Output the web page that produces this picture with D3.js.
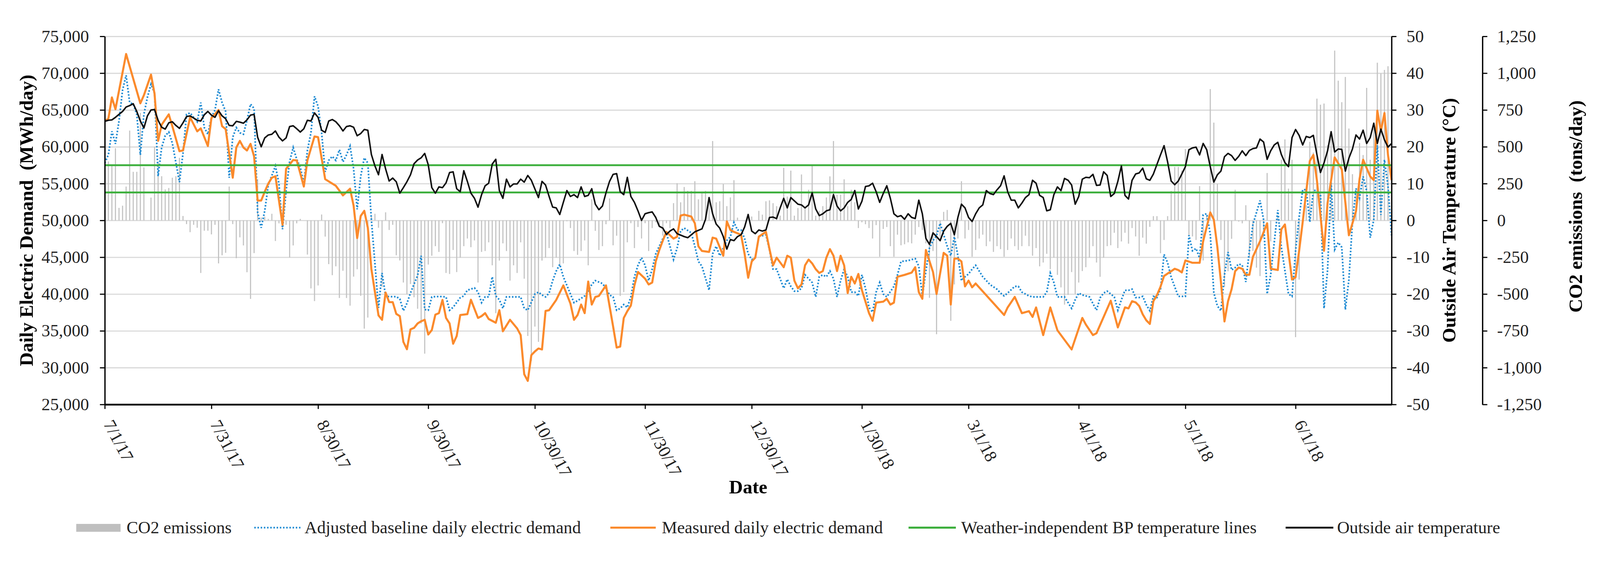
<!DOCTYPE html>
<html>
<head>
<meta charset="utf-8">
<script src="https://cdn.jsdelivr.net/npm/d3@7"></script>
<style>
  html, body { margin: 0; padding: 0; background: #fff; overflow: hidden; }
  #chart { display: block; width: 100vw; height: 100vh; }
  svg text { font-family: "Liberation Serif", "Times New Roman", serif; }
</style>
</head>
<body>
<svg id="chart" viewBox="0 0 4260 1436" preserveAspectRatio="xMidYMid meet"></svg>
<script>
// ---- data ----
const tickLabels = ['7/1/17', '7/31/17', '8/30/17', '9/30/17', '10/30/17', '11/30/17',
  '12/30/17', '1/30/18', '3/1/18', '4/1/18', '5/1/18', '6/1/18'];
const firstDay = '7/1/17';
const lastDay = 362; // days after 7/1/17 (6/28/18)

const demandTicks = [25000, 30000, 35000, 40000, 45000, 50000, 55000, 60000, 65000, 70000, 75000];
const tempTicks = [-50, -40, -30, -20, -10, 0, 10, 20, 30, 40, 50];
const co2Ticks = [-1250, -1000, -750, -500, -250, 0, 250, 500, 750, 1000, 1250];

const legendLabels = ['CO2 emissions', 'Adjusted baseline daily electric demand',
  'Measured daily electric demand', 'Weather-independent BP temperature lines', 'Outside air temperature'];

// weather-independent balance point temperatures (°C)
const bpTemps = [15.0, 7.6];

// CO2 emissions, tons/day, one value per day from 7/1/17
const co2Tons = [
  610, 400, 370, 490, 85, 100, 230, 610, 330, 330,
  730, 360, 0, 155, 500, 400, 300, 210, 220, 290,
  300, 425, 30, -25, -80, -30, -50, -357, -70, -70,
  -95, -30, -292, -237, -220, 230, -25, -257, -115, -170,
  -352, -533, -222, 280, 20, 25, 10, 45, -140, -20,
  -55, -30, -252, -170, -20, 10, 0, -232, -462, -548,
  -442, 40, -110, -297, -372, -312, -527, -342, -527, -579,
  -382, -332, -512, -735, -660, 25, 45, -50, -452, 55,
  -65, -30, -237, -272, -422, -502, -432, -522, -600, -700,
  -905, -300, -240, -175, -214, -19, -357, -364, -201, -351,
  -253, -175, -123, -182, -136, -422, -214, -208, -149, -305,
  -630, -273, -156, -208, -409, -305, -357, -149, -396, -785,
  -955, -721, -825, -273, -253, -188, -318, -253, -305, -292,
  -6, -52, -208, -234, -208, -136, -305, 143, -71, -201,
  -175, -26, 149, -169, -104, -513, -487, -149, -19, -188,
  -45, -123, -19, -208, -52, -13, -32, -104, -19, -52,
  117, 253, 123, 227, 201, 201, 266, 143, 195, 201,
  156, 539, 123, 130, 247, 97, 156, 273, 19, 0,
  -6, 19, 26, 0, 65, 39, 130, 136, 117, 97,
  32, 357, 162, 338, 32, 84, 312, 84, 208, 377,
  32, 65, 97, 156, 299, 539, 175, 175, 279, 97,
  208, 123, -52, -13, -26, -52, -123, -32, -247, -58,
  -45, -175, -247, -97, -169, -162, -149, -156, -97, -45,
  -65, -156, -526, -208, -773, -110, 58, 71, -682, -435,
  -123, 266, -123, -65, -247, -201, -123, -97, -175, -143,
  -214, -175, -195, -247, -201, -123, -175, -201, -175, -104,
  -175, -240, -188, -312, -286, -227, -331, -253, -370, -455,
  -572, -506, -351, -500, -422, -344, -318, -253, -175, -286,
  -383, -253, -175, -169, -84, -188, -143, -84, -158, -52,
  -109, -240, -117, -158, -44, 29, 29, -223, -133, 29,
  200, 363, 363, 339, 485, -101, -109, -133, 233, -272,
  29, 892, 664, 249, -133, -451, -345, -125, 208, -8,
  -20, 103, -256, -207, -321, -378, -117, 322, -142, -3,
  21, 412, 550, 216, 412, -793, -402, 5, 103, 534,
  461, 827, 786, 794, 510, 607, 1153, 949, 803, 974,
  624, 314, 185, 526, 444, 900, 412, 624, 1071, 998,
  1022, 1047, 762
];

// [day after 7/1/17, MWh/day]
const baselineMWh = [
  [0,57800],[1,58900],[2,62100],[3,60400],[4,63500],[5,67700],[6,69700],[7,66000],[8,65800],[9,64400],
  [10,58900],[11,64400],[12,66750],[13,68500],[14,67300],[15,56000],[16,59900],[17,61500],[18,62000],[19,60500],
  [21,55200],[22,59100],[23,64400],[24,64600],[26,63400],[27,66000],[28,62600],[29,61700],[30,64000],[31,65000],
  [32,67800],[33,66000],[34,64800],[35,55800],[36,61300],[37,62600],[38,61900],[39,61700],[40,63600],[41,65800],
  [42,65200],[43,51100],[44,49000],[45,51300],[46,54800],[48,57400],[49,55000],[50,48800],[51,54000],[52,58000],
  [53,59900],[54,58300],[55,57200],[56,55000],[57,59500],[58,61900],[59,66850],[60,65500],[61,61900],[62,56600],
  [63,58150],[64,58700],[65,58150],[66,59600],[67,57950],[68,58900],[69,60100],[70,57000],[71,51500],[72,56000],
  [73,58500],[74,57800],[75,50100],[77,38130],[78,42860],[79,39740],[80,39640],[82,39640],[83,39340],[84,37730],
  [85,38730],[86,40140],[87,41350],[88,42500],[89,45200],[90,37900],[91,37800],[92,39600],[93,39650],[95,39650],
  [96,39600],[97,37800],[98,38200],[100,39500],[101,39740],[102,40520],[104,40830],[105,40260],[106,38830],[107,39610],
  [108,39610],[109,42340],[110,39740],[111,39220],[112,38050],[113,39610],[116,39610],[117,39610],[118,38050],[119,37800],
  [121,40000],[122,40260],[123,39870],[124,39610],[125,40130],[126,41820],[127,43120],[128,44030],[129,42340],[131,40000],
  [132,38830],[133,39090],[135,39740],[136,40390],[137,41300],[138,41820],[140,41430],[141,40780],[142,39870],[143,39610],
  [144,37800],[145,38050],[146,38570],[147,38180],[148,39610],[149,42340],[150,43900],[151,44940],[152,43900],[153,41820],
  [154,43380],[155,45460],[156,46490],[157,47530],[158,48310],[159,46490],[160,44680],[161,46230],[162,48570],[163,48960],
  [165,48310],[166,46490],[167,44420],[168,43770],[170,40520],[171,45460],[172,46490],[173,45200],[174,46230],[175,47270],
  [176,47790],[177,49740],[178,48700],[179,48700],[180,47530],[181,45460],[182,44680],[183,44940],[184,47790],[186,48050],
  [187,45975],[188,43380],[189,43380],[191,40780],[192,42000],[193,41040],[194,40390],[195,40390],[196,40780],[197,42600],
  [199,41560],[200,39610],[201,42340],[202,42600],[203,42340],[204,43120],[205,42080],[206,39610],[207,41820],[208,43380],
  [209,42340],[210,40260],[211,40260],[212,39740],[213,42600],[214,40780],[215,38180],[216,37535],[217,40260],[218,41560],
  [219,40000],[220,39610],[222,41040],[223,42600],[224,44420],[226,44550],[228,44810],[229,43770],[230,39740],[231,43120],
  [232,46230],[233,47270],[234,47920],[235,49610],[237,46490],[238,45200],[239,47790],[240,45200],[241,41820],[242,42340],
  [243,42730],[244,43380],[245,43900],[247,42340],[248,41820],[249,41300],[251,40650],[252,40130],[253,39740],[254,40130],
  [256,41040],[257,41040],[258,40260],[260,39740],[261,39610],[262,39610],[264,39610],[265,40260],[266,42860],[267,41560],
  [268,39610],[269,39610],[270,39610],[272,38050],[273,39220],[274,40130],[275,39870],[277,39610],[278,38700],[279,37800],
  [280,39480],[281,40130],[282,40390],[284,39610],[285,37800],[286,39220],[287,40500],[288,40500],[289,40660],[290,39520],
  [291,39520],[292,39680],[293,38540],[294,37730],[295,39680],[296,39520],[297,40660],[298,45380],[299,44240],[300,42290],
  [302,39680],[303,39680],[304,39680],[305,47980],[306,45870],[307,46190],[308,44890],[309,50750],[310,50910],[311,48150],
  [312,40170],[313,38380],[314,37730],[315,42610],[316,45700],[317,43260],[318,43590],[319,44080],[320,43910],[321,41640],
  [322,45870],[323,49450],[325,52700],[326,50100],[327,40010],[328,42610],[330,51400],[331,46350],[333,40010],[334,39680],
  [335,45870],[336,50420],[337,54170],[338,54170],[339,49770],[340,54000],[341,54170],[342,53680],[343,38050],[344,43260],
  [345,55140],[346,46030],[347,47000],[348,46350],[349,37890],[350,41960],[351,49770],[352,54330],[353,53030],[354,55960],
  [355,54000],[356,47660],[357,50100],[358,60190],[359,50750],[360,58240],[361,54660],[362,47980]
];

const measuredMWh = [
  [0,63500],[1,63800],[2,66700],[3,65100],[6,72600],[10,65900],[11,67000],[13,69800],[14,67200],[15,60800],
  [16,63000],[18,64400],[19,62800],[21,59400],[22,59500],[24,64000],[26,62100],[27,62500],[29,60100],[30,63900],
  [32,65000],[33,62800],[34,62400],[36,55800],[37,59900],[38,60800],[39,59900],[40,59500],[41,60400],[42,58700],
  [43,52700],[44,52700],[45,53900],[46,55000],[47,55800],[48,56000],[50,49400],[51,57000],[53,58200],[54,58150],
  [56,54600],[57,58150],[59,61400],[60,61300],[62,55600],[64,55000],[65,54700],[67,53400],[69,54300],[70,52000],
  [71,47600],[72,50600],[73,51300],[74,49000],[75,43400],[77,37100],[78,36500],[79,40200],[80,38900],[81,38900],
  [82,37300],[83,37000],[84,33500],[85,32500],[86,35200],[87,35400],[88,36000],[89,36300],[90,36500],[91,34500],
  [92,35100],[93,37200],[94,37400],[95,39200],[96,36750],[97,36000],[98,33250],[99,34300],[100,37150],[102,37270],
  [103,39220],[105,36750],[106,37000],[107,37400],[108,36600],[110,36100],[111,37800],[112,34940],[114,36500],[116,35330],
  [117,34420],[118,29100],[119,28200],[120,31700],[121,32200],[122,32600],[123,32470],[124,37700],[125,37800],[127,39200],
  [129,41170],[131,38700],[132,36500],[133,37150],[134,38570],[135,37400],[136,41700],[137,38570],[138,39600],[139,39740],
  [141,41170],[143,35600],[144,32730],[145,32860],[146,36750],[147,37670],[148,38440],[149,41170],[150,43000],[152,42080],
  [153,41300],[154,41560],[155,44420],[156,45975],[157,47270],[158,48440],[160,47530],[161,47790],[162,50650],[163,50780],
  [165,50520],[166,49610],[167,46490],[168,45845],[170,45715],[171,47660],[172,47530],[174,45200],[175,49870],[176,48700],
  [177,48440],[179,48050],[180,45455],[181,42210],[182,44420],[183,44940],[184,47790],[186,48440],[187,46100],[188,43900],
  [189,44940],[191,43640],[192,45200],[193,44940],[194,41820],[195,40780],[196,41300],[197,43900],[198,44680],[199,44160],
  [200,43380],[201,42860],[202,43120],[203,44940],[204,46100],[205,45200],[206,43120],[207,45200],[208,43900],[209,40130],
  [210,42340],[211,41430],[212,42730],[213,40520],[215,37400],[216,36370],[217,38830],[219,38960],[220,39350],[221,38570],
  [222,38830],[223,42340],[225,42600],[227,42910],[228,43640],[229,40260],[230,39350],[231,45975],[233,42990],[234,40000],
  [236,45590],[237,45200],[238,38570],[239,44810],[240,44810],[241,44420],[242,41040],[243,41820],[244,40910],[245,41430],
  [253,37150],[254,38180],[256,39610],[258,37400],[260,37670],[261,36890],[262,38180],[264,34420],[266,38180],[268,35070],
  [272,32470],[275,36750],[276,35850],[278,34420],[279,34680],[283,39090],[285,35460],[287,38180],[288,38050],[289,39030],
  [290,38870],[291,38380],[292,37240],[293,36430],[294,35940],[295,39030],[296,39850],[297,40990],[298,42450],[299,42780],
  [300,43100],[301,43430],[302,43260],[303,42940],[304,44560],[305,44400],[306,44240],[308,44240],[309,47170],[311,51080],
  [312,50100],[313,46360],[314,41640],[315,36270],[316,39030],[317,40660],[318,43100],[319,43590],[320,43430],[321,42610],
  [322,42610],[323,45050],[325,47170],[327,49610],[328,43430],[330,43260],[331,48800],[332,49450],[334,41960],[335,42290],
  [336,45870],[337,49770],[339,58070],[340,58890],[341,55470],[343,45870],[344,52380],[346,58560],[348,56930],[350,47980],
  [352,51240],[353,55630],[354,58240],[356,55960],[357,55470],[358,64910],[359,62140],[360,64580],[361,58890],[362,55470]
];

// [day after 7/1/17, °C]
const outsideTemp = [
  [0,26.9],[1,27.2],[2,27.3],[3,28.0],[4,28.8],[5,29.6],[6,30.8],[7,31.2],[8,31.7],[9,29.6],
  [10,27.0],[11,25.1],[12,28.4],[13,30.0],[14,30.1],[15,27.2],[16,25.3],[17,24.8],[18,26.5],[19,26.8],
  [20,25.8],[21,25.0],[22,26.5],[23,28.2],[24,28.4],[25,27.8],[26,27.2],[27,27.0],[28,28.7],[29,29.6],
  [30,28.6],[31,28.0],[32,29.8],[33,28.4],[34,27.6],[35,25.8],[36,25.7],[37,26.9],[38,26.7],[39,26.4],
  [40,27.3],[41,28.6],[42,28.8],[43,22.6],[44,20.0],[45,22.4],[46,23.2],[47,23.4],[48,24.3],[49,22.6],
  [50,21.6],[51,22.4],[52,25.5],[53,25.7],[54,24.9],[55,24.0],[56,24.9],[57,27.2],[58,27.0],[59,29.2],
  [60,28.0],[61,24.5],[62,23.9],[63,27.0],[64,27.4],[65,26.8],[66,25.7],[67,24.3],[68,25.5],[69,25.7],
  [70,25.3],[71,23.0],[72,23.6],[73,24.7],[74,24.5],[75,17.9],[76,14.8],[77,12.4],[78,17.9],[79,14.0],
  [80,10.7],[81,11.5],[82,10.5],[83,7.4],[84,8.9],[85,10.5],[86,12.4],[87,15.4],[88,16.4],[89,17.0],
  [90,18.2],[91,15.1],[92,8.9],[93,7.4],[94,9.1],[95,8.9],[96,10.2],[97,13.0],[98,13.2],[99,8.6],
  [100,7.8],[101,13.5],[102,10.6],[103,7.4],[104,6.0],[105,3.6],[106,7.0],[107,9.4],[108,10.1],[109,15.3],
  [110,16.6],[111,8.1],[112,6.0],[113,11.2],[114,9.1],[115,9.9],[116,9.9],[117,11.2],[118,10.4],[119,12.2],
  [120,10.9],[122,6.2],[123,10.6],[124,9.6],[125,6.5],[126,3.6],[127,3.4],[128,1.6],[129,4.9],[130,8.1],
  [131,6.5],[132,7.0],[133,6.2],[134,9.1],[135,6.5],[136,6.8],[137,8.6],[138,4.4],[139,2.9],[140,3.9],
  [141,7.5],[142,10.6],[143,12.5],[144,12.7],[145,7.8],[146,7.0],[147,11.7],[148,6.5],[149,4.9],[150,2.6],
  [151,0.0],[152,1.8],[153,2.1],[154,2.3],[155,0.8],[156,-1.6],[157,-2.1],[158,-3.8],[159,-2.9],[160,-2.3],
  [161,-3.6],[163,-4.4],[164,-4.7],[165,-3.9],[166,-3.1],[168,-2.3],[169,0.3],[170,6.2],[171,1.8],[172,-1.0],
  [173,-2.1],[174,-4.4],[175,-7.8],[176,-5.2],[177,-5.5],[178,-4.4],[179,-3.9],[180,-1.8],[181,1.6],[182,-2.9],
  [183,-3.6],[184,-2.6],[185,-2.9],[186,-2.6],[187,0.8],[188,0.9],[189,0.5],[190,3.4],[191,6.0],[192,3.4],
  [193,6.2],[195,4.4],[196,4.2],[197,3.4],[198,4.2],[199,7.5],[200,3.1],[201,1.3],[202,1.8],[203,2.6],
  [204,2.9],[205,7.0],[206,3.9],[207,2.6],[208,3.4],[209,4.9],[210,5.7],[211,8.1],[212,3.1],[213,5.2],
  [214,9.2],[215,9.4],[216,10.1],[217,7.8],[218,4.9],[219,7.3],[220,9.4],[221,6.0],[222,1.8],[223,1.0],
  [224,1.3],[225,0.3],[226,1.8],[227,0.8],[228,0.5],[229,5.5],[230,1.8],[231,-4.9],[232,-6.5],[233,-3.4],
  [234,-4.4],[235,-5.5],[236,-2.9],[237,-1.6],[238,-0.8],[239,-3.9],[240,0.8],[241,4.4],[242,3.4],[243,0.8],
  [244,-0.3],[245,1.8],[246,3.4],[247,4.2],[248,8.1],[249,7.3],[250,7.0],[251,8.3],[252,9.4],[253,12.1],
  [254,7.8],[255,5.5],[256,5.5],[257,3.4],[258,4.7],[259,6.2],[260,7.0],[261,10.9],[262,10.1],[263,6.8],
  [264,6.2],[265,2.6],[266,2.9],[267,7.0],[268,9.1],[269,8.1],[270,11.4],[271,10.9],[272,9.6],[273,4.4],
  [274,6.5],[275,11.2],[276,11.7],[277,11.6],[278,12.5],[279,9.5],[280,9.6],[281,13.2],[282,12.2],[283,6.5],
  [284,7.3],[285,10.6],[286,14.8],[287,6.8],[288,5.8],[289,10.9],[290,12.6],[291,12.9],[292,14.2],[293,11.3],
  [294,10.9],[295,12.6],[296,15.2],[297,17.8],[298,20.3],[299,15.9],[300,10.7],[301,9.7],[302,10.7],[303,12.6],
  [304,14.6],[305,19.2],[306,19.7],[307,19.9],[308,17.8],[309,20.9],[310,19.2],[311,14.6],[312,10.4],[313,12.4],
  [314,13.4],[315,17.3],[316,18.2],[317,17.6],[318,16.3],[319,17.4],[320,18.9],[321,17.6],[322,19.0],[323,19.5],
  [324,19.7],[325,22.1],[326,21.3],[327,16.6],[328,18.9],[329,20.5],[330,21.2],[331,17.9],[332,15.7],[333,14.6],
  [334,22.5],[335,24.7],[336,23.1],[337,20.5],[338,22.8],[339,22.5],[340,23.1],[341,17.9],[342,13.0],[343,15.6],
  [344,18.9],[345,24.1],[346,18.6],[347,19.4],[348,19.3],[349,13.4],[350,16.9],[351,19.4],[352,23.2],[353,22.1],
  [354,24.5],[355,20.9],[356,22.5],[357,26.4],[358,20.9],[359,24.8],[360,21.9],[361,19.9],[362,20.9]
];

// ---- layout ----
const margin = { left: 279, top: 68, right: 555, bottom: 388 };
const width = 4260 - margin.left - margin.right;   // 3426
const height = 1436 - margin.top - margin.bottom;  // 980
const co2AxisX = 3947 - margin.left;

const orange = '#fb8a2c', blue = '#1f8bd3', green = '#3daf3d', gray = '#c3c3c3';
const fontSize = 46, titleSize = 51;

const fmt = d3.formatLocale({ decimal: '.', thousands: ',', grouping: [3], currency: ['', ''], minus: '-' }).format(',');
const parseDate = d3.timeParse('%m/%d/%y');
const startDate = parseDate(firstDay);
const dayToDate = d => d3.timeDay.offset(startDate, d);

const svg = d3.select('#chart');
svg.append('rect').attr('width', 4260).attr('height', 1436).attr('fill', '#fff');

const chart = svg.append('g')
  .attr('transform', `translate(${margin.left}, ${margin.top})`);

const x = d3.scaleTime().domain([startDate, dayToDate(lastDay)]).range([0, width]);
const yDemand = d3.scaleLinear().domain([25000, 75000]).range([height, 0]);
const yTemp = d3.scaleLinear().domain([-50, 50]).range([height, 0]);
const yCo2 = d3.scaleLinear().domain([-1250, 1250]).range([height, 0]);

// grid
chart.append('g')
  .attr('class', 'grid')
  .call(d3.axisLeft(yDemand).tickValues(demandTicks).tickSize(-width).tickFormat(''))
  .call(g => g.select('.domain').remove())
  .selectAll('line')
  .attr('stroke', '#d9d9d9')
  .attr('stroke-width', 3);

// CO2 bars
chart.append('g')
  .selectAll('line')
  .data(co2Tons)
  .join('line')
  .attr('x1', (v, i) => x(dayToDate(i)))
  .attr('x2', (v, i) => x(dayToDate(i)))
  .attr('y1', yCo2(0))
  .attr('y2', v => yCo2(v))
  .attr('stroke', gray)
  .attr('stroke-width', 3);

const lineOf = y => d3.line().x(d => x(dayToDate(d[0]))).y(d => y(d[1]));

// adjusted baseline (dotted)
chart.append('path')
  .datum(baselineMWh)
  .attr('d', lineOf(yDemand))
  .attr('fill', 'none')
  .attr('stroke', blue)
  .attr('stroke-width', 4.5)
  .attr('stroke-dasharray', '4 4.5');

// measured
chart.append('path')
  .datum(measuredMWh)
  .attr('d', lineOf(yDemand))
  .attr('fill', 'none')
  .attr('stroke', orange)
  .attr('stroke-width', 5.5)
  .attr('stroke-linejoin', 'round');

// BP temperature lines
chart.append('g')
  .selectAll('line')
  .data(bpTemps)
  .join('line')
  .attr('x1', 0)
  .attr('x2', width)
  .attr('y1', t => yTemp(t))
  .attr('y2', t => yTemp(t))
  .attr('stroke', green)
  .attr('stroke-width', 5);

// outside air temperature
chart.append('path')
  .datum(outsideTemp)
  .attr('d', lineOf(yTemp))
  .attr('fill', 'none')
  .attr('stroke', '#111')
  .attr('stroke-width', 4)
  .attr('stroke-linejoin', 'round');

// axes
const styleAxis = (g, w) => {
  g.attr('font-family', '"Liberation Serif", "Times New Roman", serif').attr('font-size', fontSize);
  g.select('.domain').attr('stroke', '#000').attr('stroke-width', w);
  g.selectAll('.tick line').attr('stroke', '#000').attr('stroke-width', 3);
  g.selectAll('.tick text').attr('fill', '#222');
};

chart.append('g')
  .call(d3.axisLeft(yDemand).tickValues(demandTicks).tickSize(13).tickSizeOuter(0).tickPadding(29).tickFormat(fmt))
  .call(g => styleAxis(g, 3.5));

chart.append('g')
  .attr('transform', `translate(${width}, 0)`)
  .call(d3.axisRight(yTemp).tickValues(tempTicks).tickSize(13).tickSizeOuter(0).tickPadding(27).tickFormat(fmt))
  .call(g => styleAxis(g, 3.5));

chart.append('g')
  .attr('transform', `translate(${co2AxisX}, 0)`)
  .call(d3.axisRight(yCo2).tickValues(co2Ticks).tickSize(13).tickSizeOuter(0).tickPadding(26).tickFormat(fmt))
  .call(g => styleAxis(g, 3.5));

const tickDates = tickLabels.map(parseDate);
chart.append('g')
  .attr('transform', `translate(0, ${height})`)
  .call(d3.axisBottom(x).tickValues(tickDates).tickSize(12).tickSizeOuter(0).tickFormat((d, i) => tickLabels[i]))
  .call(g => styleAxis(g, 4.5))
  .selectAll('.tick text')
  .attr('x', 0)
  .attr('y', 0)
  .attr('dy', null)
  .attr('text-anchor', 'start')
  .attr('transform', 'translate(-5, 52) rotate(62)');

// axis titles
svg.append('text')
  .attr('transform', `translate(87, ${margin.top + height / 2}) rotate(-90)`)
  .attr('text-anchor', 'middle')
  .attr('font-size', titleSize)
  .attr('font-weight', 'bold')
  .style('white-space', 'pre')
  .text('Daily Electric Demand  (MWh/day)');

svg.append('text')
  .attr('transform', `translate(3875, ${margin.top + height / 2}) rotate(-90)`)
  .attr('text-anchor', 'middle')
  .attr('font-size', titleSize)
  .attr('font-weight', 'bold')
  .text('Outside Air Temperature (°C)');

svg.append('text')
  .attr('transform', 'translate(4212, 521) rotate(-90)')
  .attr('text-anchor', 'middle')
  .attr('font-size', titleSize)
  .attr('font-weight', 'bold')
  .style('white-space', 'pre')
  .text('CO2 emissions  (tons/day)');

svg.append('text')
  .attr('x', margin.left + width / 2)
  .attr('y', 1285)
  .attr('text-anchor', 'middle')
  .attr('font-size', titleSize)
  .attr('font-weight', 'bold')
  .text('Date');

// legend
const legendY = 1376;
const legend = svg.append('g');
legend.append('rect')
  .attr('x', 203).attr('y', legendY - 10).attr('width', 118).attr('height', 21)
  .attr('fill', '#bfbfbf');

const legendLines = [
  { x1: 677, x2: 800, color: blue, w: 4.5, dash: '4 4.5' },
  { x1: 1625, x2: 1746, color: orange, w: 5.5, dash: null },
  { x1: 2419, x2: 2545, color: green, w: 5.5, dash: null },
  { x1: 3423, x2: 3550, color: '#111', w: 5, dash: null }
];
legend.selectAll('line')
  .data(legendLines)
  .join('line')
  .attr('x1', d => d.x1).attr('x2', d => d.x2)
  .attr('y1', legendY).attr('y2', legendY)
  .attr('stroke', d => d.color)
  .attr('stroke-width', d => d.w)
  .attr('stroke-dasharray', d => d.dash);

const legendTextX = [337, 811, 1762, 2559, 3560];
legend.selectAll('text')
  .data(legendLabels)
  .join('text')
  .attr('x', (d, i) => legendTextX[i])
  .attr('y', legendY + 15)
  .attr('font-size', fontSize)
  .attr('fill', '#222')
  .text(d => d);
</script>
</body>
</html>
